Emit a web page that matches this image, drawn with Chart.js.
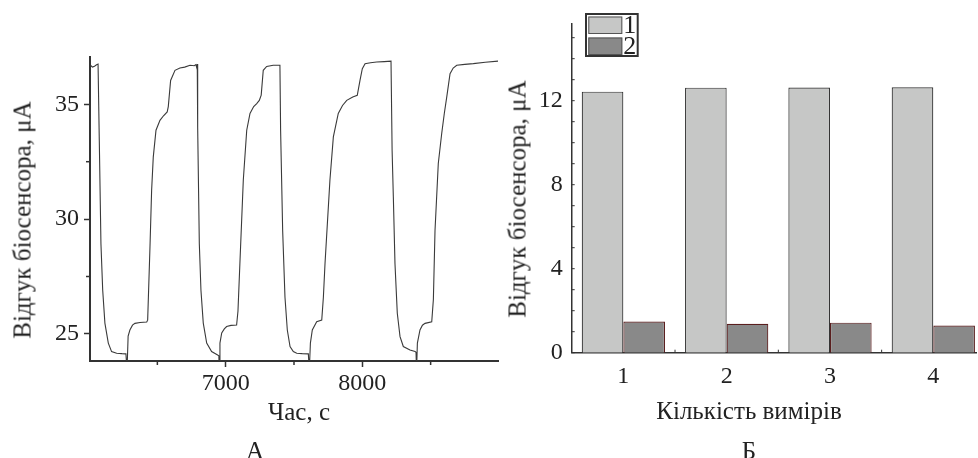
<!DOCTYPE html>
<html><head><meta charset="utf-8">
<script src="https://cdn.jsdelivr.net/npm/chart.js@4.4.1/dist/chart.umd.min.js"></script>
<style>
html,body{margin:0;padding:0;background:#fff;}
body{width:978px;height:458px;position:relative;overflow:hidden;font-family:'Liberation Serif','Times New Roman',serif;color:#222;}
.cv{position:absolute;top:0;}
.lbl{position:absolute;font-size:25px;white-space:nowrap;line-height:1;transform:translate(-50%,-50%);}
.rot{transform:translate(-50%,-50%) rotate(-90deg);}
</style></head><body>
<div class="cv" style="left:0;"><canvas id="cA" width="500" height="400"></canvas></div>
<div class="cv" style="left:500px;"><canvas id="cB" width="478" height="400"></canvas></div>
<div class="lbl rot" style="left:22px;top:220px">Відгук біосенсора, μA</div>
<div class="lbl" style="left:299px;top:411px">Час, с</div>
<div class="lbl" style="left:255px;top:450px">А</div>
<div class="lbl rot" style="left:517px;top:199px">Відгук біосенсора, μA</div>
<div class="lbl" style="left:749px;top:410px">Кількість вимірів</div>
<div class="lbl" style="left:749px;top:450px">Б</div>
<script>
// ---- Panel A data: time (s) and biosensor current (μA) ----
const timeA = [6010,6025,6040,6055,6066,6075,6087,6100,6116,6141,6165,6202,6240,6270,6278,6286,6299,6318,6336,6373,6422,6429,6446,6458,6470,6490,6519,6545,6572,6580,6597,6629,6665,6700,6739,6770,6782,6788,6792,
  6795,6807,6819,6836,6861,6897,6938,6950,6953,6958,6971,6990,7007,7039,7080,7090,7104,7129,7154,7178,7205,7227,7246,7260,7275,7300,7348,7397,
  7402,7417,7434,7451,7471,7495,7520,7560,7605,7612,7620,7634,7666,7703,7715,7727,7763,7788,7824,7855,7886,7930,7963,7983,8000,8020,8060,8105,8160,8210,
  8218,8227,8239,8256,8276,8300,8349,8386,8393,8397,8403,8422,8440,8459,8508,8520,8532,8556,8581,8600,8618,8642,8665,8691,8750,8812,8900,8995];
const currentA = [36.70,36.62,36.66,36.72,36.75,33.43,28.94,26.90,25.47,24.60,24.23,24.16,24.14,24.13,23.40,24.90,25.17,25.38,25.46,25.50,25.52,25.60,28.80,31.26,32.70,33.87,34.30,34.50,34.67,34.90,36.04,36.48,36.58,36.62,36.70,36.68,36.73,36.60,36.75,
  34.00,28.94,26.90,25.47,24.60,24.23,24.09,24.05,23.40,24.60,25.04,25.22,25.32,25.37,25.39,26.00,28.07,31.70,33.87,34.60,34.90,35.03,35.17,35.40,36.48,36.65,36.70,36.70,
  33.87,29.50,26.60,25.17,24.45,24.23,24.16,24.14,24.13,23.40,24.60,25.17,25.53,25.60,26.60,28.07,31.70,33.58,34.60,34.95,35.17,35.32,35.39,36.04,36.55,36.77,36.81,36.84,36.86,36.88,
  33.00,30.97,28.07,25.90,24.88,24.45,24.30,24.23,24.20,23.40,24.60,25.17,25.38,25.46,25.53,26.50,29.50,32.42,33.73,34.60,35.32,36.33,36.58,36.70,36.74,36.77,36.83,36.88];
const yTicksA = [25, 30, 35];
const yMinorA = [27.5, 32.5];
const xTicksA = [7000, 8000];
const xMinorA = [6500, 7500, 8500];

// ---- Panel B data ----
const measurements = [1, 2, 3, 4];
const seriesLabels = ['1', '2'];
const series1 = [12.43, 12.62, 12.63, 12.64];
const series2 = [1.48, 1.38, 1.43, 1.29];
const yTicksB = [0, 4, 8, 12];
const yMinorB = [1,2,3,5,6,7,9,10,11,13,14,15];
const xMinorB = [1.5, 2.5, 3.5];

const FONT = "'Liberation Serif','Times New Roman',serif";
const INK = '#222';
const AXIS = '#333';

const tickMarks = {
  id: 'tickMarks',
  afterDraw(chart, args, opts) {
    const ctx = chart.ctx;
    ctx.save();
    ctx.strokeStyle = opts.color || AXIS;
    ctx.lineWidth = opts.width || 1.5;
    (opts.marks || []).forEach(m => {
      const sc = chart.scales[m.axis];
      m.values.forEach(v => {
        const p = sc.getPixelForValue(v);
        ctx.beginPath();
        if (sc.isHorizontal()) {
          const y = chart.chartArea.bottom;
          ctx.moveTo(p, y); ctx.lineTo(p, y + m.len);
        } else {
          const x = chart.chartArea.left;
          ctx.moveTo(x, p); ctx.lineTo(x - m.len, p);
        }
        ctx.stroke();
      });
    });
    ctx.restore();
  }
};

const boxLegend = {
  id: 'boxLegend',
  afterDraw(chart, args, o) {
    if (!o || o.x === undefined) return;
    const ctx = chart.ctx;
    ctx.save();
    ctx.fillStyle = '#fff';
    ctx.fillRect(o.x, o.y, o.w, o.h);
    chart.data.datasets.forEach((ds, i) => {
      const y0 = o.y + o.padTop + i * o.step;
      ctx.fillStyle = ds.backgroundColor;
      ctx.fillRect(o.x + o.padLeft, y0, o.sw, o.sh);
      ctx.strokeStyle = '#555';
      ctx.lineWidth = 1;
      ctx.strokeRect(o.x + o.padLeft + 0.5, y0 + 0.5, o.sw - 1, o.sh - 1);
      ctx.fillStyle = INK;
      ctx.font = o.fontSize + 'px ' + FONT;
      ctx.textBaseline = 'middle';
      ctx.textAlign = 'left';
      ctx.fillText(ds.label, o.x + o.padLeft + o.sw + 1, y0 + o.sh / 2 + 1);
    });
    ctx.strokeStyle = AXIS;
    ctx.lineWidth = 2;
    ctx.strokeRect(o.x, o.y, o.w, o.h);
    ctx.restore();
  }
};

const tickFont = { family: FONT, size: 24 };

new Chart(document.getElementById('cA'), {
  type: 'line',
  data: {
    datasets: [{
      data: timeA.map((t, i) => ({ x: t, y: currentA[i] })),
      borderColor: '#3a3a3a',
      borderWidth: 1.1,
      pointRadius: 0,
      tension: 0,
      fill: false
    }]
  },
  options: {
    responsive: false,
    animation: false,
    events: [],
    layout: { padding: { left: 0, right: 2, top: 57, bottom: 0 } },
    plugins: {
      legend: { display: false },
      tooltip: { enabled: false },
      tickMarks: { marks: [ { axis: 'x', values: xMinorA, len: 4 }, { axis: 'y', values: yMinorA, len: 4 } ], width: 1.5 }
    },
    scales: {
      x: {
        type: 'linear', min: 6007, max: 8993,
        afterBuildTicks: s => { s.ticks = xTicksA.map(v => ({ value: v })); },
        afterFit: s => { s.height = 39; },
        ticks: { font: tickFont, color: INK, padding: 2, autoSkip: false, maxRotation: 0, callback: v => String(v) },
        grid: { drawOnChartArea: false, drawTicks: true, tickLength: 6, tickColor: AXIS, tickWidth: 1.5 },
        border: { display: true, color: AXIS, width: 2 }
      },
      y: {
        type: 'linear', min: 23.82, max: 37.06,
        afterBuildTicks: s => { s.ticks = yTicksA.map(v => ({ value: v })); },
        afterFit: s => { s.width = 90; },
        ticks: { font: tickFont, color: INK, padding: 5, autoSkip: false, callback: v => String(v) },
        grid: { drawOnChartArea: false, drawTicks: true, tickLength: 6, tickColor: AXIS, tickWidth: 1.5 },
        border: { display: true, color: AXIS, width: 2 }
      }
    }
  },
  plugins: [tickMarks]
});

new Chart(document.getElementById('cB'), {
  type: 'bar',
  data: {
    datasets: [
      { label: seriesLabels[0], data: measurements.map((m, i) => ({ x: m, y: series1[i] })),
        backgroundColor: '#c6c7c6', borderColor: '#333333', borderWidth: 1.2 },
      { label: seriesLabels[1], data: measurements.map((m, i) => ({ x: m, y: series2[i] })),
        backgroundColor: '#898989', borderColor: '#5a1e1e', borderWidth: 1.2 }
    ]
  },
  options: {
    responsive: false,
    animation: false,
    events: [],
    categoryPercentage: 0.806,
    barPercentage: 1.0,
    layout: { padding: { left: 0, right: 1.3, top: 13, bottom: 0 } },
    plugins: {
      legend: { display: false },
      tooltip: { enabled: false },
      tickMarks: { marks: [ { axis: 'y', values: yMinorB, len: -3 }, { axis: 'y', values: yTicksB, len: -3 }, { axis: 'x', values: xMinorB, len: -3 } ], width: 1 },
      boxLegend: { x: 86, y: 14, w: 51.7, h: 42, padLeft: 2.3, padTop: 2.5, step: 21, sw: 34, sh: 17.5, fontSize: 26 }
    },
    scales: {
      x: {
        type: 'linear', min: 0.5, max: 4.42, offset: false,
        afterBuildTicks: s => { s.ticks = measurements.map(v => ({ value: v })); },
        afterFit: s => { s.height = 47.3; },
        ticks: { font: tickFont, color: INK, padding: 10, autoSkip: false, maxRotation: 0, callback: v => String(v) },
        grid: { display: false, drawTicks: false },
        border: { display: true, color: AXIS, width: 1.5 }
      },
      y: {
        type: 'linear', min: 0, max: 15.68,
        afterBuildTicks: s => { s.ticks = yTicksB.map(v => ({ value: v })); },
        afterFit: s => { s.width = 71.7; },
        ticks: { font: tickFont, color: INK, padding: 9, autoSkip: false, callback: v => String(v) },
        grid: { display: false, drawTicks: false },
        border: { display: true, color: AXIS, width: 1.5 }
      }
    }
  },
  plugins: [tickMarks, boxLegend]
});
</script>
</body></html>
